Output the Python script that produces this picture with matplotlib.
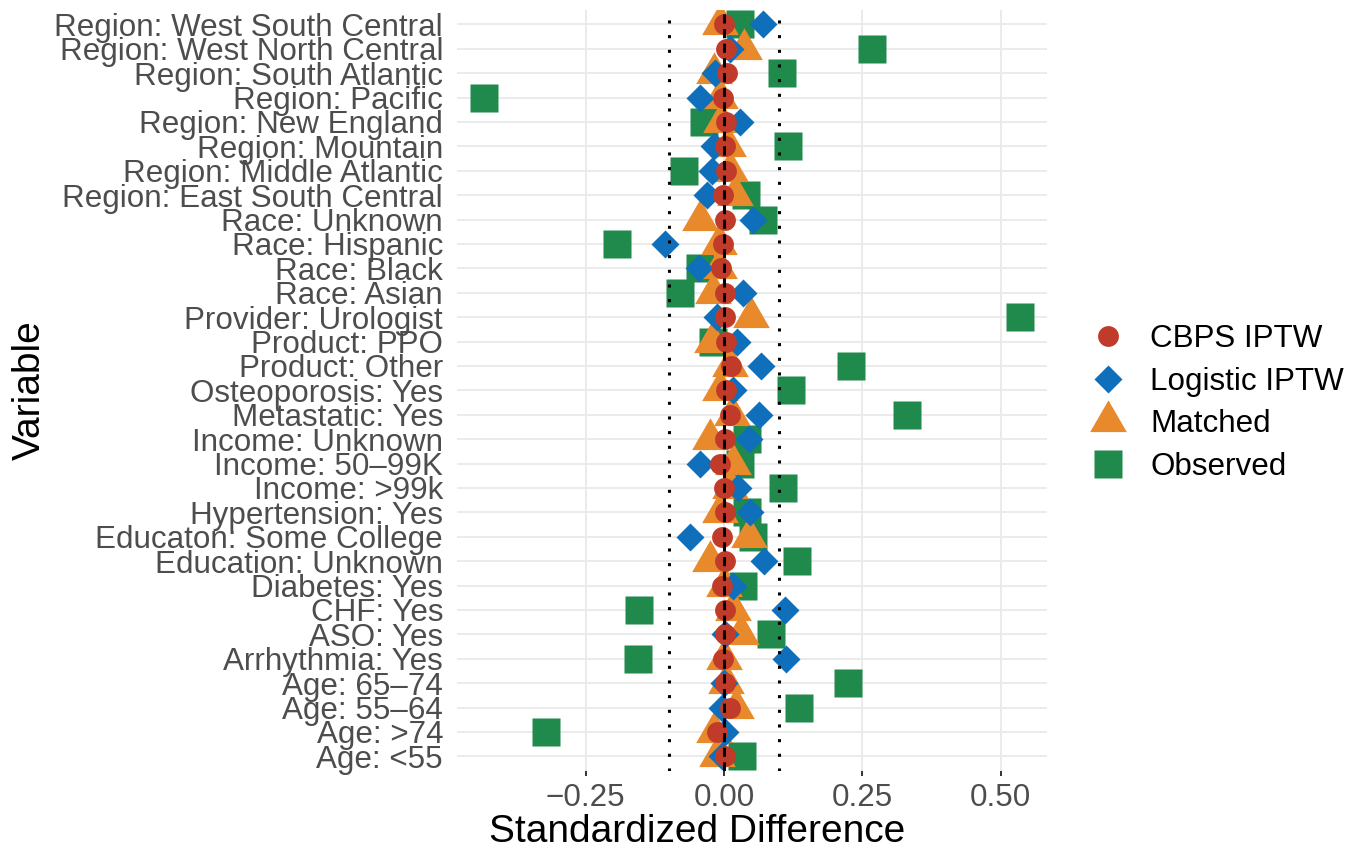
import matplotlib
matplotlib.use("Agg")
import matplotlib.pyplot as plt
import numpy as np

plt.rcParams['font.family'] = ['Liberation Sans', 'DejaVu Sans']

variables = [
    "Region: West South Central",
    "Region: West North Central",
    "Region: South Atlantic",
    "Region: Pacific",
    "Region: New England",
    "Region: Mountain",
    "Region: Middle Atlantic",
    "Region: East South Central",
    "Race: Unknown",
    "Race: Hispanic",
    "Race: Black",
    "Race: Asian",
    "Provider: Urologist",
    "Product: PPO",
    "Product: Other",
    "Osteoporosis: Yes",
    "Metastatic: Yes",
    "Income: Unknown",
    "Income: 50\u201399K",
    "Income: >99k",
    "Hypertension: Yes",
    "Educaton: Some College",
    "Education: Unknown",
    "Diabetes: Yes",
    "CHF: Yes",
    "ASO: Yes",
    "Arrhythmia: Yes",
    "Age: 65\u201374",
    "Age: 55\u201364",
    "Age: >74",
    "Age: <55",
]

observed = [0.029, 0.267, 0.104, -0.434, -0.037, 0.116, -0.073, 0.040, 0.071, -0.193,
            -0.043, -0.079, 0.535, -0.020, 0.229, 0.121, 0.331, 0.041, 0.029, 0.107,
            0.041, 0.052, 0.131, 0.034, -0.154, 0.085, -0.156, 0.224, 0.136, -0.322, 0.033]
logistic = [0.070, 0.011, -0.016, -0.044, 0.028, -0.019, -0.022, -0.031, 0.053, -0.106,
            -0.046, 0.034, -0.013, 0.024, 0.066, 0.016, 0.063, 0.045, -0.044, 0.026,
            0.046, -0.061, 0.072, 0.017, 0.110, 0.001, 0.112, 0.000, -0.004, 0.002, -0.004]
matched = [-0.007, 0.036, -0.019, -0.007, -0.005, 0.008, 0.011, 0.020, -0.043, -0.010,
           -0.010, -0.020, 0.048, -0.022, 0.010, -0.008, 0.014, -0.025, 0.017, 0.011,
           -0.007, 0.045, -0.025, 0.000, 0.017, 0.030, 0.000, 0.004, 0.022, -0.018, -0.012]
cbps = [0.000, 0.004, 0.006, -0.002, 0.003, 0.002, 0.004, -0.002, 0.001, -0.002,
        -0.005, 0.002, 0.002, 0.004, 0.012, 0.004, 0.010, 0.002, -0.007, 0.000,
        0.001, -0.003, 0.002, -0.003, 0.002, 0.002, -0.001, 0.002, 0.010, -0.012, 0.002]

series_names = ["CBPS IPTW", "Logistic IPTW", "Matched", "Observed"]
xticks = [-0.25, 0.0, 0.25, 0.50]
xtick_labels = ["\u22120.25", "0.00", "0.25", "0.50"]

W, H = 1361, 852
fig = plt.figure(figsize=(W / 100, H / 100), dpi=100)
ax = fig.add_axes([457 / W, 1 - 771 / H, 590 / W, 761.3 / H])

n = len(variables)
ypos = np.arange(n)[::-1]  # first variable at the top

tri = [(0, 1), (-0.866, -0.5), (0.866, -0.5), (0, 1)]

styles = {
    "Observed": dict(marker='s', ms=20, color='#1F8A4C', zorder=2),
    "Matched": dict(marker=tri, ms=30.5, color='#E8892B', zorder=3),
    "Logistic IPTW": dict(marker='D', ms=14.5, color='#0F6FBA', zorder=4),
    "CBPS IPTW": dict(marker='o', ms=15, color='#C13B2A', zorder=5),
}
values = {"Observed": observed, "Matched": matched,
          "Logistic IPTW": logistic, "CBPS IPTW": cbps}

handles = {}
for name in ["Observed", "Matched", "Logistic IPTW", "CBPS IPTW"]:
    st = styles[name]
    h, = ax.plot(values[name], ypos, ls='none', marker=st['marker'], ms=st['ms'],
                 color=st['color'], mec='none', zorder=st['zorder'], label=name)
    handles[name] = h

ax.axvline(0, color='black', lw=2.2, ls=(0, (3.0, 1.8)), zorder=6)
for v in (-0.1, 0.1):
    ax.axvline(v, color='black', lw=2.2, ls=(0, (1, 3.8)), zorder=6)

allv = np.concatenate([observed, logistic, matched, cbps])
lo, hi = allv.min(), allv.max()
pad = 0.05 * (hi - lo)
ax.set_xlim(lo - pad, hi + pad)
ax.set_ylim(-0.6, n - 1 + 0.6)

ax.set_yticks(ypos)
ax.set_yticklabels(variables)
ax.set_xticks(xticks)
ax.set_xticklabels(xtick_labels)

for s in ax.spines.values():
    s.set_visible(False)
ax.set_axisbelow(True)
ax.grid(True, color='#EBEBEB', lw=1.4)
ax.tick_params(axis='x', length=3.6, width=1.4, color='#333333',
               labelcolor='#4D4D4D', labelsize=22.6, pad=5)
ax.tick_params(axis='y', length=0, labelcolor='#4D4D4D', labelsize=22.6, pad=10)

fig.text(697 / W, 1 - 832 / H, "Standardized Difference", ha='center', va='center',
         fontsize=28, color='black')
fig.text(30 / W, 1 - 390 / H, "Variable", ha='center', va='center', rotation=90,
         fontsize=28, color='black')

leg = fig.legend([handles[k] for k in series_names], series_names,
                 loc='center left', bbox_to_anchor=(1092.7 / W, 1 - 403 / H),
                 frameon=False, fontsize=22.6, handlelength=1.0, handletextpad=0.84,
                 labelspacing=0.40, borderpad=0, borderaxespad=0, numpoints=1)

fig.savefig("out.png", dpi=100)
